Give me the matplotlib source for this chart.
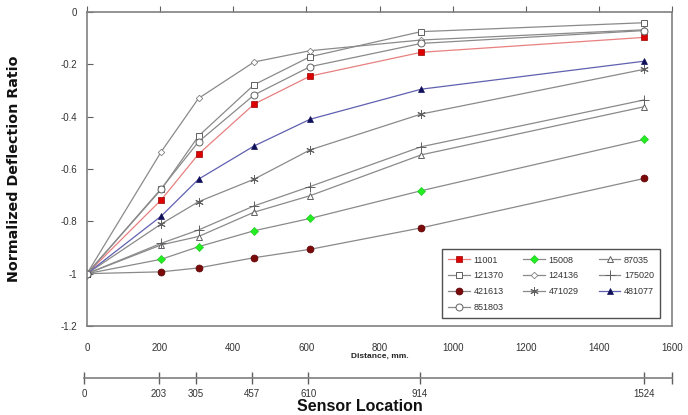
import matplotlib
matplotlib.use("Agg")
import matplotlib.pyplot as plt

plt.rcParams['font.family'] = ['Liberation Sans', 'DejaVu Sans']

sensor_x = [0, 203, 305, 457, 610, 914, 1524]

series_names = ['11001', '15008', '87035', '121370', '124136', '175020',
                '421613', '471029', '481077', '851803']

s_11001 = [-1.0, -0.718, -0.543, -0.352, -0.245, -0.154, -0.097]
s_15008 = [-1.0, -0.945, -0.897, -0.836, -0.789, -0.683, -0.487]
s_87035 = [-1.0, -0.890, -0.858, -0.765, -0.702, -0.546, -0.362]
s_121370 = [-1.0, -0.678, -0.474, -0.278, -0.171, -0.075, -0.041]
s_124136 = [-1.0, -0.534, -0.330, -0.191, -0.148, -0.107, -0.068]
s_175020 = [-1.0, -0.884, -0.833, -0.741, -0.667, -0.515, -0.336]
s_421613 = [-1.0, -0.993, -0.978, -0.939, -0.907, -0.825, -0.636]
s_471029 = [-1.0, -0.810, -0.725, -0.639, -0.527, -0.390, -0.219]
s_481077 = [-1.0, -0.780, -0.639, -0.512, -0.410, -0.295, -0.188]
s_851803 = [-1.0, -0.675, -0.496, -0.317, -0.209, -0.120, -0.071]

values = [s_11001, s_15008, s_87035, s_121370, s_124136, s_175020,
          s_421613, s_471029, s_481077, s_851803]

x_ticks = [0, 200, 400, 600, 800, 1000, 1200, 1400, 1600]
y_ticks = [0, -0.2, -0.4, -0.6, -0.8, -1.0, -1.2]
y_tick_labels = ['0', '-0.2', '-0.4', '-0.6', '-0.8', '-1', '-1.2']
sensor_ticks = [0, 203, 305, 457, 610, 914, 1524]

gray = '#8a8a8a'
asterisk = (6, 2, 0)
styles = {
    '11001': dict(color='#e88080', marker='s', ms=4.3, mfc='#dd0000', mec='#990000', mew=0.5),
    '15008': dict(color=gray, marker='D', ms=3.8, mfc='#22ee22', mec='#22cc22', mew=0.5),
    '87035': dict(color=gray, marker='^', ms=5, mfc='white', mec='#606060', mew=0.7),
    '121370': dict(color=gray, marker='s', ms=5, mfc='white', mec='#606060', mew=0.7),
    '124136': dict(color=gray, marker='D', ms=3.3, mfc='white', mec='#808080', mew=0.6),
    '175020': dict(color=gray, marker='+', ms=7, mec='#606060', mew=0.7),
    '421613': dict(color=gray, marker='o', ms=5, mfc='#7a0a0a', mec='#5a0000', mew=0.5),
    '471029': dict(color=gray, marker=asterisk, ms=6, mec='#606060', mew=0.7),
    '481077': dict(color='#6060b0', marker='^', ms=4.3, mfc='#10105a', mec='#10105a', mew=0.5),
    '851803': dict(color=gray, marker='o', ms=5, mfc='white', mec='#606060', mew=0.7),
}

fig = plt.figure(figsize=(6.88, 4.15), dpi=100)
ax = fig.add_axes([87 / 688, 1 - 326 / 415, 585 / 688, 314 / 415])

handles = {}
for name, vals in zip(series_names, values):
    st = styles[name]
    h, = ax.plot(sensor_x, vals, lw=0.9, label=name, **st)
    handles[name] = h

ax.set_xlim(0, 1600)
ax.set_ylim(-1.2, 0)
ax.set_xticks(x_ticks)
ax.set_xticklabels([str(t) for t in x_ticks])
ax.set_yticks(y_ticks)
ax.set_yticklabels(y_tick_labels)
ax.tick_params(axis='x', bottom=False, top=True, direction='out', length=4,
               labelbottom=True, labeltop=False, labelsize=7, pad=8,
               color='#606060', labelcolor='#333333')
ax.tick_params(axis='y', left=True, direction='in', length=4, labelsize=7,
               color='#606060', labelcolor='#333333', pad=7)
for sp in ax.spines.values():
    sp.set_color('#808080')
    sp.set_linewidth(1.2)

ax.set_ylabel('Normalized Deflection Ratio', fontsize=10.3, fontweight='bold',
              family=['DejaVu Sans'], color='#111111')
ax.yaxis.set_label_coords(-0.112, 0.5)

order = ['11001', '121370', '421613', '851803', '15008', '124136', '471029',
         '87035', '175020', '481077']
leg = ax.legend([handles[n] for n in order], order, ncol=3, loc='lower right',
                bbox_to_anchor=(0.98, 0.025), fontsize=6.5, frameon=True,
                fancybox=False, edgecolor='#505050', framealpha=1,
                handlelength=2.4, columnspacing=2.2, labelspacing=0.75,
                borderpad=0.7, handletextpad=0.4, borderaxespad=0)
leg.get_frame().set_linewidth(1.0)
for t in leg.get_texts():
    t.set_color('#333333')

fig.text(380 / 688, 1 - 356 / 415, 'Distance, mm.', fontsize=6, fontweight='bold',
         ha='center', va='center', color='#222222')

# sensor location axis
ax2 = fig.add_axes([84 / 688, 1 - 378 / 415, 588 / 688, 0.0001])
ax2.set_xlim(0, 1600)
ax2.set_ylim(0, 1)
for s in ['top', 'left', 'right']:
    ax2.spines[s].set_visible(False)
ax2.spines['bottom'].set_color('#7f7f7f')
ax2.spines['bottom'].set_linewidth(1.2)
ax2.set_yticks([])
ax2.set_xticks(sensor_ticks + [1600])
ax2.set_xticklabels([str(t) for t in sensor_ticks] + [''])
ax2.tick_params(axis='x', direction='inout', length=8, width=1.0, color='#606060',
                labelsize=7, pad=4, labelcolor='#333333')

fig.text(360 / 688, 1 - 406 / 415, 'Sensor Location', fontsize=11.5, fontweight='bold',
         ha='center', va='center', color='#111111')

fig.savefig('out.png', dpi=100)
